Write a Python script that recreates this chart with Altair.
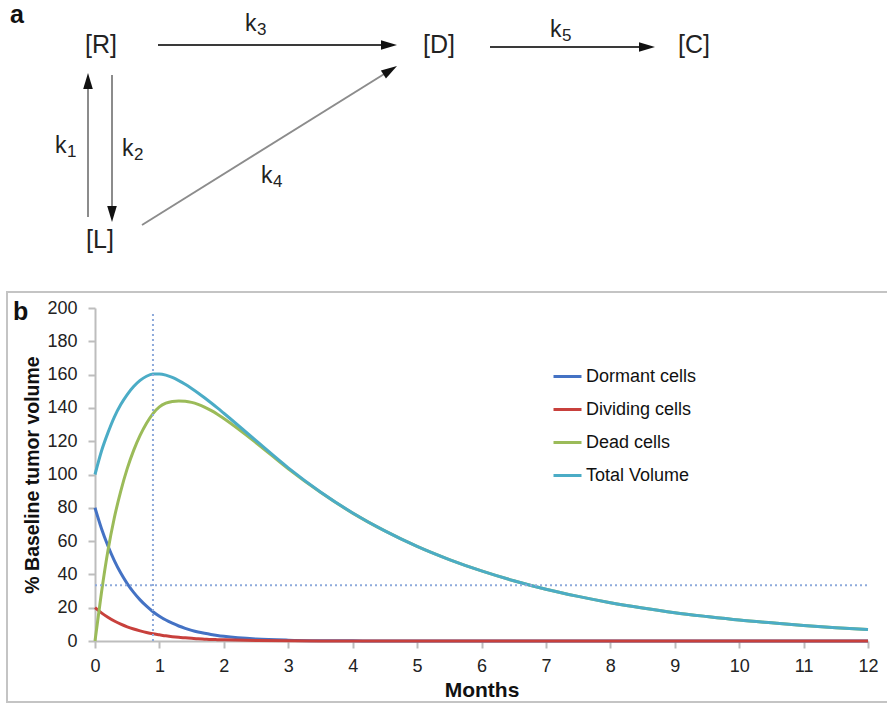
import altair as alt
import pandas as pd
import numpy as np

# ---------------- panel b data ----------------
months = [0, 0.1, 0.2, 0.3, 0.4, 0.5, 0.6, 0.7, 0.8, 0.9, 1.0, 1.1, 1.2, 1.3, 1.4,
          1.5, 1.6, 1.7, 1.8, 1.9, 2.0, 2.5, 3.0, 3.5, 4.0, 4.5, 5.0, 5.5, 6.0, 6.5,
          7.0, 7.5, 8.0, 8.5, 9.0, 9.5, 10.0, 10.5, 11.0, 11.5, 12.0]
dormant = [80, 67.6, 57.2, 48.3, 40.8, 34.5, 29.2, 24.7, 20.9, 17.6, 14.9, 12.6, 10.7,
           9.0, 7.6, 6.4, 5.4, 4.6, 3.9, 3.3, 2.8, 1.2, 0.5, 0.2, 0.1,
           0, 0, 0, 0, 0, 0, 0, 0, 0, 0, 0, 0, 0, 0, 0, 0]
dividing = [20, 16.9, 14.3, 12.0, 10.1, 8.5, 7.2, 6.1, 5.1, 4.3, 3.7, 3.1, 2.6, 2.2,
            1.9, 1.6, 1.3, 1.1, 0.9, 0.8, 0.7, 0.3, 0.1, 0, 0,
            0, 0, 0, 0, 0, 0, 0, 0, 0, 0, 0, 0, 0, 0, 0, 0]
dead = [0, 29, 54, 74, 90, 103.5, 114.5, 123.5, 130.8, 136.6, 140.6, 142.8, 143.9,
        144.2, 144.0, 143.3, 142.1, 140.5, 138.5, 136.2, 133.6, 119.1, 103.4, 89.3,
        76.8, 66.1, 56.8, 48.9, 42.1, 36.2, 31.1, 26.8, 23.0, 19.8, 17.0, 14.7, 12.6,
        10.9, 9.3, 8.0, 6.9]
total = [100, 114, 125, 134.5, 142, 148, 152.8, 156.5, 159, 160.3, 160.4, 159.7, 158.3,
         156.4, 154.2, 151.7, 149, 146.1, 143.1, 140, 136.8, 120.3, 104, 89.5, 76.9,
         66.1, 56.8, 48.9, 42.1, 36.2, 31.1, 26.8, 23.0, 19.8, 17.0, 14.7, 12.6, 10.9,
         9.3, 8.0, 6.9]
series_names = ["Dormant cells", "Dividing cells", "Dead cells", "Total Volume"]
series_colors = ["#4472C4", "#C8403C", "#9BBB59", "#4BACC6"]

ref_month = 0.9
ref_month_top = 197
ref_level = 33.5

x_ticks = list(range(0, 13))
y_ticks = list(range(0, 201, 20))

# ---------------- panel a diagram ----------------
node_labels = ["[R]", "[D]", "[C]", "[L]"]
node_x = [101, 439, 694, 100]
node_y = [45, 45, 45, 240]

rate_subs = ["3", "5", "1", "2", "4"]
rate_x = [245, 550, 55, 122, 261]
rate_y = [31, 37, 153, 156, 183]

arrow_x1 = [158, 490, 88, 112, 142]
arrow_y1 = [45, 47, 217, 75, 225]
arrow_x2 = [397, 655, 88, 112, 397]
arrow_y2 = [45, 47, 73, 222, 66]
arrow_dark = [True, True, False, False, False]

panel_letters = ["a", "b"]
panel_x = [10, 13]
panel_y = [23, 320]

frame = {"x": [7], "x2": [895], "y": [292], "y2": [702]}

FONT = "Liberation Sans"

# ---------------- build panel b ----------------
rows = []
for name, vals in zip(series_names, [dormant, dividing, dead, total]):
    for m, v in zip(months, vals):
        rows.append({"month": m, "value": v, "series": name})
df = pd.DataFrame(rows)

xs = alt.Scale(domain=[0, 12], nice=False, zero=False)
ys = alt.Scale(domain=[0, 200], nice=False, zero=True)

x_axis = alt.Axis(values=x_ticks, format="d", labelFontSize=18, labelFont=FONT,
                  labelColor="#222222", labelPadding=9, labelFlush=False,
                  labelOverlap=False, tickSize=7, tickColor="#bdbdbd", tickWidth=2,
                  domainColor="#bdbdbd", domainWidth=2, grid=False, title="Months",
                  titleFont=FONT, titleFontSize=21, titleFontWeight="bold",
                  titleColor="#111111", titleX=386.5, titleY=49, titleAlign="center",
                  titleBaseline="middle")
y_axis = alt.Axis(values=y_ticks, format="d", labelFontSize=18, labelFont=FONT,
                  labelColor="#222222", labelPadding=11, labelOverlap=False, tickSize=7,
                  tickColor="#bdbdbd", tickWidth=2, domainColor="#bdbdbd", domainWidth=2,
                  grid=False, title="% Baseline tumor volume", titleFont=FONT,
                  titleFontSize=19.5, titleFontWeight="bold", titleColor="#111111",
                  titleX=-63, titleY=166.5, titleAlign="center", titleBaseline="middle",
                  titleAngle=270)

lines = alt.Chart(df).mark_line(strokeWidth=3, interpolate="monotone").encode(
    x=alt.X("month:Q", scale=xs, axis=x_axis, title="Months"),
    y=alt.Y("value:Q", scale=ys, axis=y_axis, title="% Baseline tumor volume"),
    color=alt.Color("series:N",
                    scale=alt.Scale(domain=series_names, range=series_colors),
                    legend=alt.Legend(orient="none", legendX=457, legendY=53, title=None,
                                      symbolType="stroke", symbolSize=784,
                                      symbolStrokeWidth=3, labelFontSize=18,
                                      labelFont=FONT, labelColor="#111111", labelOffset=3,
                                      rowPadding=8, labelLimit=300, padding=0)),
)

vline = alt.Chart(pd.DataFrame({"month": [ref_month], "lo": [0], "hi": [ref_month_top]})).mark_rule(
    color="#8eaadb", strokeWidth=2, strokeDash=[2, 3]
).encode(
    x=alt.X("month:Q", scale=xs, axis=x_axis, title="Months"),
    y=alt.Y("lo:Q", scale=ys, axis=y_axis, title="% Baseline tumor volume"),
    y2="hi:Q",
)
hline = alt.Chart(pd.DataFrame({"level": [ref_level], "m0": [0], "m1": [12]})).mark_rule(
    color="#8eaadb", strokeWidth=2, strokeDash=[2, 3]
).encode(
    y=alt.Y("level:Q", scale=ys, axis=y_axis, title="% Baseline tumor volume"),
    x=alt.X("m0:Q", scale=xs, axis=x_axis, title="Months"),
    x2="m1:Q",
)

plot_b = alt.layer(lines, vline, hline)

# ---------------- build panel a diagram (pixel-unit scales) ----------------
dxs = alt.Scale(domain=[95, 868], nice=False, zero=False)
dys = alt.Scale(domain=[308, 641], reverse=True, nice=False, zero=False)

arr = pd.DataFrame({"x1": arrow_x1, "y1": arrow_y1, "x2": arrow_x2, "y2": arrow_y2,
                    "dark": arrow_dark})
length = np.hypot(arr.x2 - arr.x1, arr.y2 - arr.y1)
ux = (arr.x2 - arr.x1) / length
uy = (arr.y2 - arr.y1) / length
head = 8
arr["hx"] = arr.x2 - ux * head
arr["hy"] = arr.y2 - uy * head
arr["ang"] = np.degrees(np.arctan2(ux, -uy)) % 360


def X(f):
    return alt.X(f, scale=dxs, axis=None)


def Y(f):
    return alt.Y(f, scale=dys, axis=None)


frame_df = pd.DataFrame(frame)
frame_layer = alt.Chart(frame_df).mark_rect(fillOpacity=0, stroke="#c4c4c4", strokeWidth=2).encode(
    x=X("x:Q"), x2="x2:Q", y=Y("y:Q"), y2="y2:Q")

dark_rules = alt.Chart(arr).transform_filter("datum.dark").mark_rule(
    color="#3a3a3a", strokeWidth=2).encode(x=X("x1:Q"), y=Y("y1:Q"), x2="hx:Q", y2="hy:Q")
grey_rules = alt.Chart(arr).transform_filter("!datum.dark").mark_rule(
    color="#8c8c8c", strokeWidth=2).encode(x=X("x1:Q"), y=Y("y1:Q"), x2="hx:Q", y2="hy:Q")
heads = alt.Chart(arr).mark_point(
    shape="M0,-1L0.6,1L-0.6,1Z", filled=True, size=256, color="#111111", opacity=1,
    strokeWidth=0).encode(x=X("hx:Q"), y=Y("hy:Q"), angle=alt.Angle("ang:Q", scale=None))

nodes = alt.Chart(pd.DataFrame({"label": node_labels, "x": node_x, "y": node_y})).mark_text(
    font=FONT, fontSize=25, color="#222222", align="center", baseline="middle").encode(
    x=X("x:Q"), y=Y("y:Q"), text="label:N")

rates_df = pd.DataFrame({"sub": rate_subs, "x": rate_x, "y": rate_y})
k_main = alt.Chart(rates_df).mark_text(
    font=FONT, fontSize=23, color="#222222", align="left", baseline="alphabetic").encode(
    x=X("x:Q"), y=Y("y:Q"), text=alt.value("k"))
k_sub = alt.Chart(rates_df).mark_text(
    font=FONT, fontSize=17, color="#222222", align="left", baseline="alphabetic",
    dx=12, dy=4).encode(x=X("x:Q"), y=Y("y:Q"), text="sub:N")

letters = alt.Chart(pd.DataFrame({"t": panel_letters, "x": panel_x, "y": panel_y})).mark_text(
    font=FONT, fontSize=25, fontWeight="bold", color="#111111", align="left",
    baseline="alphabetic").encode(x=X("x:Q"), y=Y("y:Q"), text="t:N")

diagram = alt.layer(frame_layer, dark_rules, grey_rules, heads, nodes, k_main, k_sub, letters)

chart = alt.layer(plot_b, diagram).resolve_scale(
    x="independent", y="independent"
).properties(
    width=773, height=333,
    padding={"left": 95, "top": 308, "right": 19, "bottom": 62},
    autosize=alt.AutoSizeParams(type="none"),
    background="white",
).configure_view(stroke=None)

chart.save("out.html", embed_options={"renderer": "svg", "actions": False})
